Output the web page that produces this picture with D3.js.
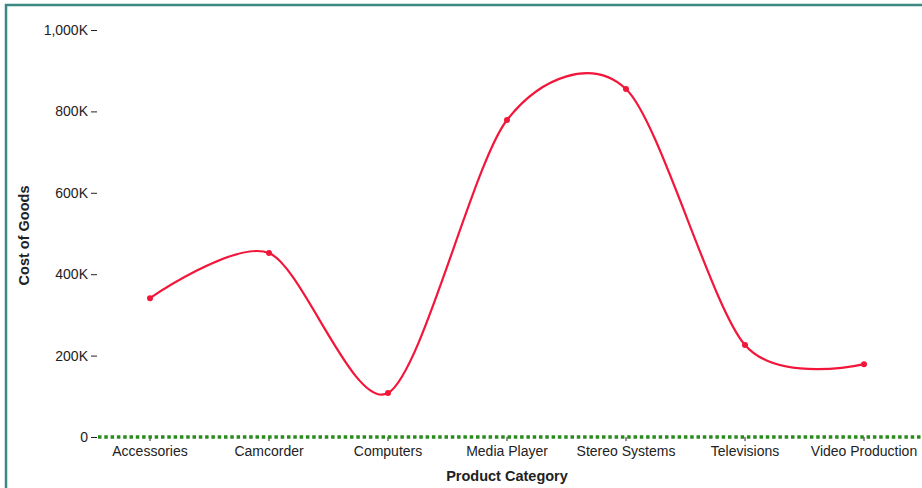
<!DOCTYPE html>
<html><head><meta charset="utf-8">
<script src="https://cdn.jsdelivr.net/npm/d3@7"></script>
<style>body{margin:0;background:#fff;} svg{display:block;font-family:"Liberation Sans",Arial,sans-serif;}</style>
</head><body>
<script>
const categories = ["Accessories","Camcorder","Computers","Media Player","Stereo Systems","Televisions","Video Production"];
const costOfGoods = [341000, 452000, 108000, 779000, 855000, 226000, 179000];
const yTicks = [0, 200000, 400000, 600000, 800000, 1000000];

const W = 922, H = 488;
const svg = d3.select("body").append("svg").attr("width", W).attr("height", H);

// border (teal frame)
svg.append("rect").attr("x", 6).attr("y", 5).attr("width", W + 20).attr("height", H + 20)
  .attr("fill", "none").attr("stroke", "#3b8a82").attr("stroke-width", 2.5);

const axisX = 97, y0 = 437, y1 = 30;
const x = d3.scaleBand().domain(categories).range([90.5, 923.5]);
const y = d3.scaleLinear().domain([0, 1000000]).range([y0, y1]);

// y axis
const ya = svg.append("g").attr("transform", `translate(${axisX},0)`)
  .call(d3.axisLeft(y).tickValues(yTicks).tickFormat(d => d === 0 ? "0" : d3.format(",")(d/1000) + "K"));
ya.select(".domain").remove();
ya.selectAll("text").attr("font-size", 14).attr("fill", "#222").attr("font-family", "Liberation Sans, Arial, sans-serif");
ya.selectAll("line").attr("stroke", "#222");

// x axis
const xa = svg.append("g").attr("transform", `translate(0,${y0})`)
  .call(d3.axisBottom(x).tickSize(4).tickPadding(5));
xa.select(".domain").remove();
xa.selectAll("text").attr("font-size", 14).attr("fill", "#222").attr("font-family", "Liberation Sans, Arial, sans-serif");
xa.selectAll("line").attr("stroke", "#222");

// dotted green baseline
svg.append("line").attr("x1", axisX + 1).attr("x2", W).attr("y1", y(0)).attr("y2", y(0))
  .attr("stroke", "#2a8a1e").attr("stroke-width", 3.5).attr("stroke-dasharray", "3.5,2.8");

// axis titles
svg.append("text").attr("x", 507).attr("y", 481).attr("text-anchor", "middle")
  .attr("font-size", 14.5).attr("font-weight", "bold").attr("fill", "#222").text("Product Category");
svg.append("text").attr("transform", `translate(29,${(y0 + y1) / 2 + 2}) rotate(-90)`).attr("text-anchor", "middle")
  .attr("font-size", 14.5).attr("font-weight", "bold").attr("fill", "#222").text("Cost of Goods");

const data = categories.map((c, i) => ({c, v: costOfGoods[i]}));
const cx = d => x(d.c) + x.bandwidth() / 2;
const line = d3.line().x(cx).y(d => y(d.v)).curve(d3.curveCardinal.tension(0.15));
svg.append("path").datum(data).attr("d", line).attr("fill", "none")
  .attr("stroke", "#f2173a").attr("stroke-width", 2.2);
svg.selectAll("circle.pt").data(data).enter().append("circle").attr("class", "pt")
  .attr("cx", cx).attr("cy", d => y(d.v)).attr("r", 3).attr("fill", "#f2173a");
</script>
</body></html>
